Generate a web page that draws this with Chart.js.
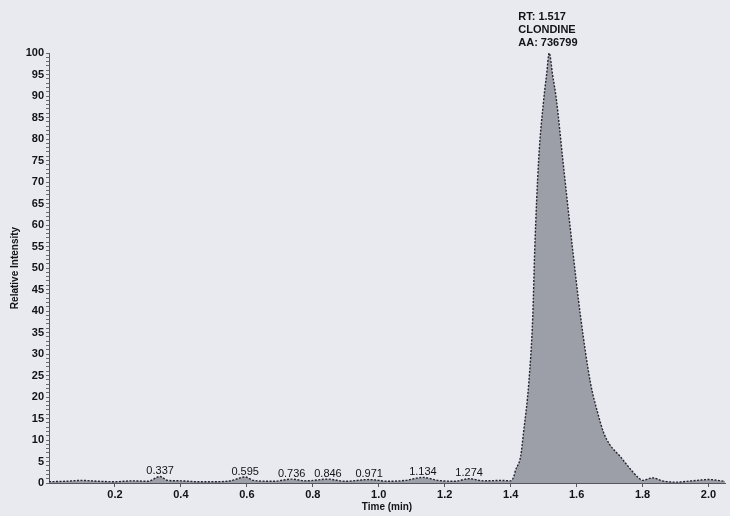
<!DOCTYPE html>
<html>
<head>
<meta charset="utf-8">
<script src="https://cdn.jsdelivr.net/npm/chart.js@4/dist/chart.umd.min.js"></script>
<style>
  html, body { margin: 0; padding: 0; background: #e8eaf0; }
  #wrap { width: 730px; height: 516px; position: relative; }
</style>
</head>
<body>
<div id="wrap"><canvas id="chrom"></canvas></div>
<script>
// Retention time (min) and relative intensity (%) of the trace
const times = [
  0.00, 0.05, 0.10, 0.15, 0.20, 0.25, 0.30, 0.337, 0.36, 0.40, 0.45, 0.50, 0.55, 0.595, 0.62,
  0.68, 0.736, 0.78, 0.846, 0.90, 0.971, 1.03, 1.08, 1.134, 1.18, 1.23, 1.274, 1.32, 1.37, 1.40,
  1.409, 1.415, 1.430, 1.439, 1.455, 1.467, 1.473, 1.485, 1.500, 1.509, 1.517, 1.527, 1.539, 1.558,
  1.588, 1.612, 1.642, 1.664, 1.682, 1.700, 1.733, 1.758, 1.785, 1.80, 1.83, 1.86, 1.90, 1.95, 2.00, 2.05
];
const intensities = [
  0.3, 0.4, 0.6, 0.4, 0.3, 0.5, 0.4, 1.5, 0.6, 0.5, 0.3, 0.3, 0.5, 1.4, 0.6,
  0.4, 0.9, 0.5, 0.9, 0.4, 0.8, 0.4, 0.6, 1.3, 0.6, 0.4, 1.0, 0.5, 0.6, 0.5,
  1.4, 3.0, 6.1, 11.7, 23.3, 38.7, 54.3, 75.3, 89, 95, 100, 95, 89, 75.3,
  54.3, 38.7, 23.3, 16.3, 11.7, 9.0, 6.1, 3.7, 1.4, 0.6, 1.2, 0.5, 0.2, 0.5, 0.8, 0.4
];

// Labelled minor peaks along the baseline
const minorPeakTimes = [0.337, 0.595, 0.736, 0.846, 0.971, 1.134, 1.274];

// Main peak identification
const mainPeakName = 'CLONDINE';
const mainPeakRT = 1.517;
const mainPeakArea = 736799;

// Axis ticks
const xTickValues = [0.2, 0.4, 0.6, 0.8, 1.0, 1.2, 1.4, 1.6, 1.8, 2.0];
const yLabelStep = 5;

const points = times.map((t, i) => ({ x: t, y: intensities[i] }));

const TEXT = '#121217';
const SANS = '"Liberation Sans", Arial, sans-serif';

// Writes retention-time labels above the peaks
const peakLabels = {
  id: 'peakLabels',
  afterDatasetsDraw(chart) {
    const { ctx, scales: { x, y } } = chart;
    ctx.save();
    ctx.fillStyle = TEXT;
    ctx.textAlign = 'center';
    ctx.textBaseline = 'bottom';
    ctx.font = '11px ' + SANS;
    minorPeakTimes.forEach(t => {
      const i = times.indexOf(t);
      const px = x.getPixelForValue(t);
      const py = y.getPixelForValue(intensities[i]);
      ctx.fillText(t.toFixed(3), px, py);
    });
    // main peak annotation, anchored to its apex
    const k = times.indexOf(mainPeakRT);
    const ax = x.getPixelForValue(mainPeakRT);
    const ay = y.getPixelForValue(intensities[k]);
    ctx.textAlign = 'left';
    ctx.textBaseline = 'middle';
    ctx.font = 'bold 11px ' + SANS;
    const lx = ax - 31;
    ctx.fillText('RT: ' + mainPeakRT.toFixed(3), lx, ay - 36);
    ctx.fillText(mainPeakName, lx, ay - 23);
    ctx.fillText('AA: ' + mainPeakArea, lx, ay - 10);
    ctx.restore();
  }
};

new Chart(document.getElementById('chrom'), {
  type: 'line',
  data: {
    datasets: [{
      data: points,
      borderColor: '#26272e',
      borderWidth: 1.4,
      borderDash: [2, 1.5],
      backgroundColor: '#9c9ea8',
      fill: 'origin',
      pointRadius: 0,
      cubicInterpolationMode: 'monotone'
    }]
  },
  options: {
    responsive: true,
    maintainAspectRatio: false,
    animation: false,
    layout: { padding: { left: 0, top: 53, right: 5, bottom: 0 } },
    plugins: { legend: { display: false }, tooltip: { enabled: false } },
    scales: {
      x: {
        type: 'linear',
        min: 0,
        max: 2.05,
        afterBuildTicks: s => { s.ticks = xTickValues.map(v => ({ value: v })); },
        afterFit: s => { s.height = 33; },
        border: { display: true, color: '#55565e', width: 1, dash: [1, 1] },
        grid: { drawOnChartArea: false, tickLength: 4, color: '#55565e' },
        ticks: {
          color: TEXT,
          font: { family: SANS, size: 11, weight: 'bold' },
          padding: 1,
          maxRotation: 0,
          autoSkip: false,
          callback: v => Number(v).toFixed(1)
        },
        title: {
          display: true,
          text: 'Time (min)',
          color: TEXT,
          font: { family: SANS, size: 10, weight: 'bold' },
          padding: { top: 0, bottom: 3 }
        }
      },
      y: {
        min: 0,
        max: 100,
        afterFit: s => { s.width = 49; },
        border: { display: true, color: '#55565e', width: 1, dash: [1, 1] },
        grid: { drawOnChartArea: false, tickLength: 3, color: '#6a6b73' },
        ticks: {
          stepSize: 1,
          autoSkip: false,
          color: TEXT,
          font: { family: SANS, size: 11, weight: 'bold' },
          padding: 2,
          callback: v => (v % yLabelStep === 0 ? String(v) : '')
        },
        title: {
          display: true,
          text: 'Relative Intensity',
          color: TEXT,
          font: { family: SANS, size: 10, weight: 'bold' },
          padding: { top: 9, bottom: 0 }
        }
      }
    }
  },
  plugins: [peakLabels]
});
</script>
</body>
</html>
